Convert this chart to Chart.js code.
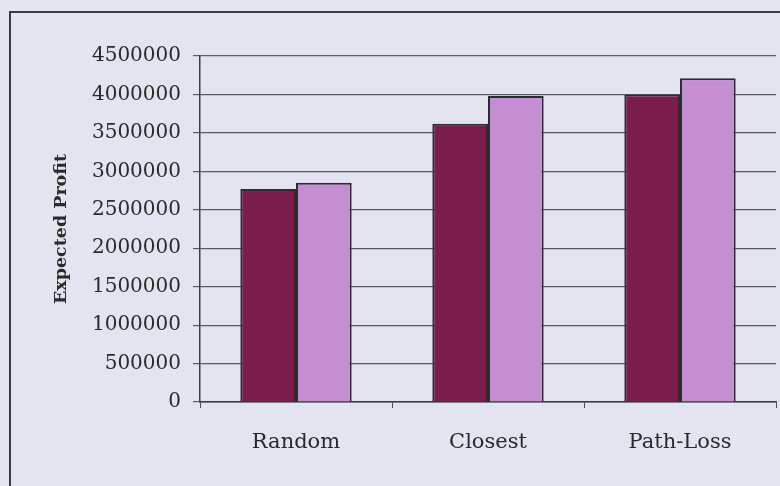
<!DOCTYPE html>
<html>
<head>
<meta charset="utf-8">
<script src="https://cdn.jsdelivr.net/npm/chart.js@4/dist/chart.umd.min.js"></script>
<style>
  html, body { margin: 0; padding: 0; background: #e4e3f0; }
  #wrap { position: relative; width: 780px; height: 486px; overflow: hidden; background: #e4e3f0; }
  #frame { position: absolute; left: 9px; top: 11px; width: 800px; height: 520px; border: 2px solid #3a3a42; box-sizing: border-box; }
  canvas { position: absolute; left: 0; top: 0; }
</style>
</head>
<body>
<div id="wrap">
  <div id="frame"></div>
  <canvas id="c" width="780" height="486"></canvas>
</div>
<script>
const categories = ['Random', 'Closest', 'Path-Loss'];
const seriesA = [2770000, 3620000, 4000000];
const seriesB = [2850000, 3980000, 4210000];
const yTicks = [0, 500000, 1000000, 1500000, 2000000, 2500000, 3000000, 3500000, 4000000, 4500000];
const yTitle = 'Expected Profit';

new Chart(document.getElementById('c'), {
  type: 'bar',
  data: {
    labels: categories,
    datasets: [
      { label: 'A', data: seriesA, backgroundColor: '#7a1d4a', borderColor: '#2e2a36', borderWidth: 2 },
      { label: 'B', data: seriesB, backgroundColor: '#c68ed2', borderColor: '#2e2a36', borderWidth: 2 }
    ]
  },
  options: {
    responsive: false,
    animation: false,
    devicePixelRatio: 1,
    layout: { padding: { left: 0, top: 56, right: 4, bottom: 0 } },
    plugins: { legend: { display: false }, tooltip: { enabled: false } },
    datasets: { bar: { categoryPercentage: 0.58, barPercentage: 1.0 } },
    scales: {
      x: {
        grid: { display: true, drawOnChartArea: false, drawTicks: true, tickLength: 6, color: '#4a4a55', lineWidth: 1 },
        border: { display: true, color: '#3a3a44', width: 1.5 },
        ticks: { color: '#2a2a2a', font: { family: 'DejaVu Serif', size: 21 }, padding: 22 },
        afterFit: (s) => { s.height = 84; }
      },
      y: {
        min: 0, max: 4500000,
        afterBuildTicks: (s) => { s.ticks = yTicks.map(v => ({ value: v })); },
        grid: { color: '#5a5a66', lineWidth: 1.2, drawTicks: true, tickLength: 7 },
        border: { display: true, color: '#3a3a44', width: 1.5 },
        ticks: { color: '#2a2a2a', font: { family: 'DejaVu Serif', size: 20 }, padding: 12, callback: (v) => String(v) },
        title: { display: true, text: yTitle, color: '#2a2a2a', font: { family: 'DejaVu Serif', size: 17.5, weight: 'bold' }, padding: { top: 51, bottom: 0 } },
        afterFit: (s) => { s.width = 200; }
      }
    }
  }
});
</script>
</body>
</html>
